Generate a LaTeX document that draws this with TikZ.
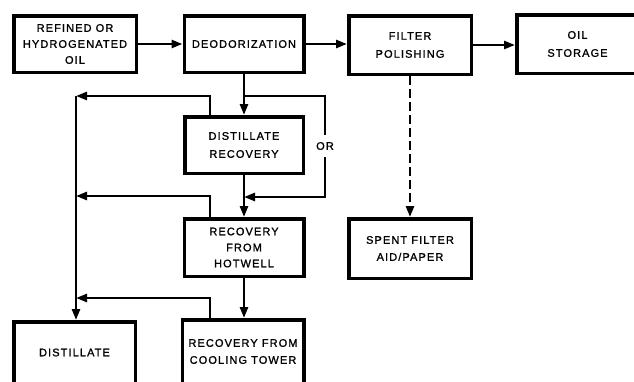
\documentclass[tikz,border=0pt]{standalone}
\usepackage{fontspec}
\setmainfont[LetterSpace=10,FakeBold=1.2]{Liberation Sans}
\usetikzlibrary{arrows.meta}
\begin{document}
\begin{tikzpicture}[x=1pt,y=-1pt,
  box/.style={draw, line width=3.5pt, inner sep=0pt, align=center,
    font=\fontsize{11}{16}\selectfont},
  arr/.style={line width=2.6pt, -{Triangle[length=11pt,width=8pt]}},
  plain/.style={line width=2.6pt}]
\useasboundingbox (0,0) rectangle (634,381);
% nodes
\node[box, minimum width=122.5pt, minimum height=56.5pt] (R) at (75,44) {REFINED OR\\HYDROGENATED\\OIL};
\node[box, minimum width=119.5pt, minimum height=56.5pt] (D) at (244,44) {DEODORIZATION};
\node[box, minimum width=122.5pt, minimum height=58.5pt, font=\fontsize{11}{18}\selectfont] (F) at (410,45) {FILTER\\POLISHING};
\node[box, minimum width=121.5pt, minimum height=58.5pt, font=\fontsize{11}{18}\selectfont] (S) at (577.5,44) {OIL\\STORAGE};
\node[box, minimum width=118.5pt, minimum height=56.5pt, font=\fontsize{11}{18}\selectfont] (DR) at (244,145) {DISTILLATE\\RECOVERY};
\node[box, minimum width=119.5pt, minimum height=57.5pt] (H) at (244,247.5) {RECOVERY\\FROM\\HOTWELL};
\node[box, minimum width=121.5pt, minimum height=63.5pt, font=\fontsize{11}{17}\selectfont] (CT) at (243,351.5) {RECOVERY FROM\\COOLING TOWER};
\node[box, minimum width=121.5pt, minimum height=61.5pt] (DI) at (74.5,352.5) {DISTILLATE};
\node[box, minimum width=122.5pt, minimum height=59.5pt, font=\fontsize{11}{17}\selectfont] (SF) at (410,248.5) {SPENT FILTER\\AID/PAPER};
\node[inner sep=0pt, minimum height=22pt, font=\fontsize{11}{13}\selectfont] (or) at (325,146) {OR};
% coordinates
\coordinate (j1) at (244,96);
\coordinate (orT) at (325,96);
\coordinate (orB) at (325,197);
\coordinate (j2) at (244,197);
\coordinate (L1) at (76,96);
\coordinate (L2) at (76,196);
\coordinate (L3) at (76,298);
% main line
\draw[arr] (R.east) -- (D.west);
\draw[arr] (D.east) -- (F.west|-D.east);
\draw[arr] (F.east) -- (S.west|-F.east);
\draw[arr] (D.south) -- (DR.north);
\draw[arr] (DR.south) -- (H.north);
\draw[arr] (H.south) -- (H.south|-CT.north);
% OR bypass
\draw[plain] (j1) -- (orT) -- (or.north);
\draw[arr] (or.south) -- (orB) -- (j2);
% return loops to distillate
\draw[arr] ([xshift=-34pt]DR.north) |- (L1);
\draw[arr] ([xshift=-34pt]H.north) |- (L2);
\draw[arr] ([xshift=-33pt]CT.north) |- (L3);
\draw[arr] (L1) -- (L1|-DI.north);
% filter waste
\draw[arr, dash pattern=on 9pt off 4pt] (F.south) -- (SF.north);
\end{tikzpicture}
\end{document}
